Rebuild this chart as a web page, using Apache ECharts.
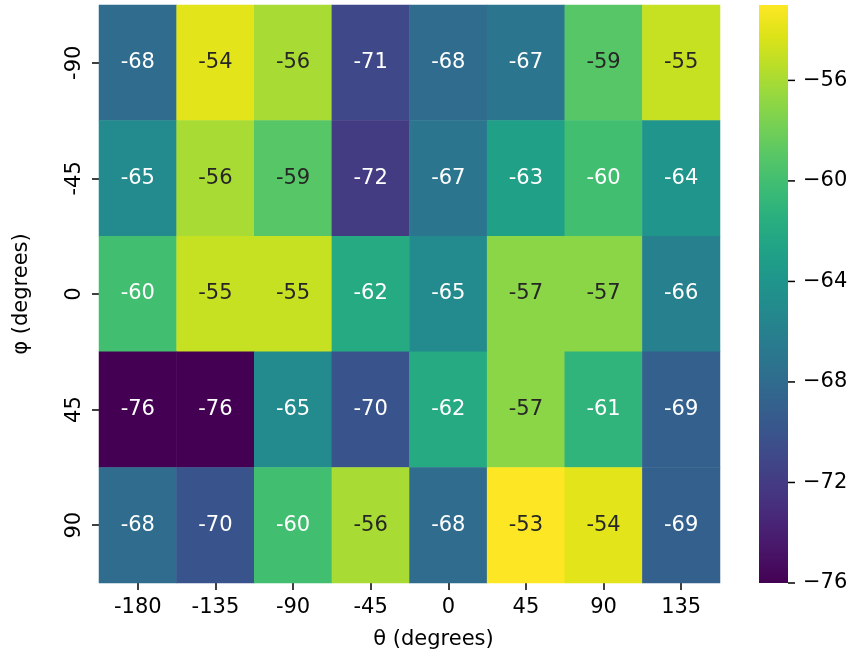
<!DOCTYPE html>
<html><head><meta charset="utf-8">
<script src="https://cdn.jsdelivr.net/npm/echarts@6/dist/echarts.min.js"></script>
<style>html,body{margin:0;padding:0;background:#fff}#c{width:860px;height:655px}</style>
</head><body><div id="c"></div>
<script>
const thetaLabels = ['-180','-135','-90','-45','0','45','90','135'];
const phiLabels = ['-90','-45','0','45','90'];
const rowPhiM90 = [-68,-54,-56,-71,-68,-67,-59,-55];
const rowPhiM45 = [-65,-56,-59,-72,-67,-63,-60,-64];
const rowPhi0   = [-60,-55,-55,-62,-65,-57,-57,-66];
const rowPhi45  = [-76,-76,-65,-70,-62,-57,-61,-69];
const rowPhi90  = [-68,-70,-60,-56,-68,-53,-54,-69];
const colorbarTicks = [-76,-72,-68,-64,-60,-56];
const cbMin = -76, cbMax = -53, cbStep = 4;

const rows = [rowPhiM90,rowPhiM45,rowPhi0,rowPhi45,rowPhi90];
const viridis = ['#440154','#481467','#482576','#453781','#404688','#39558c','#33638d','#2d718e','#287d8e','#238a8d','#1f968b','#20a386','#29af7f','#3dbc74','#56c667','#75d054','#95d840','#bade28','#dde318','#fde725'];
const data = [];
rows.forEach((r, yi) => r.forEach((v, xi) => {
  data.push({value:[xi, yi, v], label:{color: v > -59.5 ? '#262626' : '#ffffff'}});
}));
const FONT = 'DejaVu Sans';
const FS = 21;
const chart = echarts.init(document.getElementById('c'));
chart.setOption({
  backgroundColor:'#fff',
  animation:false,
  grid:[
    {left:99, top:5, width:621, height:578},
    {left:759, top:5, width:29, height:578}
  ],
  xAxis:[
    {type:'category', gridIndex:0, data:thetaLabels,
     name:'θ (degrees)', nameLocation:'middle', nameGap:46,
     nameTextStyle:{fontFamily:FONT, fontSize:FS, color:'#000', padding:[0,0,0,48]},
     axisLine:{show:false}, splitLine:{show:false},
     axisTick:{show:true, alignWithLabel:true, length:7, lineStyle:{color:'#000', width:1.5}},
     axisLabel:{fontFamily:FONT, fontSize:FS, color:'#000', margin:14}},
    {type:'value', gridIndex:1, show:false, min:0, max:1}
  ],
  yAxis:[
    {type:'category', gridIndex:0, data:phiLabels, inverse:true,
     name:'φ (degrees)', nameLocation:'middle', nameGap:67, nameRotate:90,
     nameTextStyle:{fontFamily:FONT, fontSize:FS, color:'#000'},
     axisLine:{show:false}, splitLine:{show:false},
     axisTick:{show:true, alignWithLabel:true, length:7, lineStyle:{color:'#000', width:1.5}},
     axisLabel:{fontFamily:FONT, fontSize:FS, color:'#000', rotate:90, margin:14}},
    {type:'value', gridIndex:1, position:'right', min:cbMin, max:cbMax, interval:cbStep,
     axisLine:{show:false}, splitLine:{show:false}, axisTick:{show:false},
     axisLabel:{fontFamily:FONT, fontSize:FS, color:'#000', margin:15, showMaxLabel:false,
       formatter:v => (colorbarTicks.indexOf(v) < 0 ? '' : String(v).replace('-', '\u2212'))}}
  ],
  visualMap:{
    type:'continuous', seriesIndex:0, min:cbMin, max:cbMax, show:false, inRange:{color:viridis}
  },
  series:[{
    type:'heatmap', xAxisIndex:0, yAxisIndex:0, data:data,
    label:{show:true, fontFamily:FONT, fontSize:FS, formatter:p => String(Math.round(p.value[2]))},
    itemStyle:{borderWidth:0}, emphasis:{disabled:true}
  },{
    type:'custom', xAxisIndex:1, yAxisIndex:1, silent:true, clip:false,
    data:colorbarTicks.map(v => [1, v]),
    renderItem:(params, api) => {
      const p = api.coord([api.value(0), api.value(1)]);
      return {type:'line', shape:{x1:p[0], y1:p[1], x2:p[0] + 7, y2:p[1]},
              style:{stroke:'#000', lineWidth:1.5}};
    }
  }]
});
const pTop = chart.convertToPixel({xAxisIndex:1, yAxisIndex:1}, [0, cbMax]);
const pBot = chart.convertToPixel({xAxisIndex:1, yAxisIndex:1}, [1, cbMin]);
const stops = viridis.map((c, i) => ({offset: 1 - i / (viridis.length - 1), color: c}));
chart.setOption({graphic:[{
  type:'rect', shape:{x:pTop[0], y:pTop[1], width:pBot[0]-pTop[0], height:pBot[1]-pTop[1]},
  style:{fill:new echarts.graphic.LinearGradient(0, 0, 0, 1, stops)}, silent:true, z:0
}]});
</script></body></html>
